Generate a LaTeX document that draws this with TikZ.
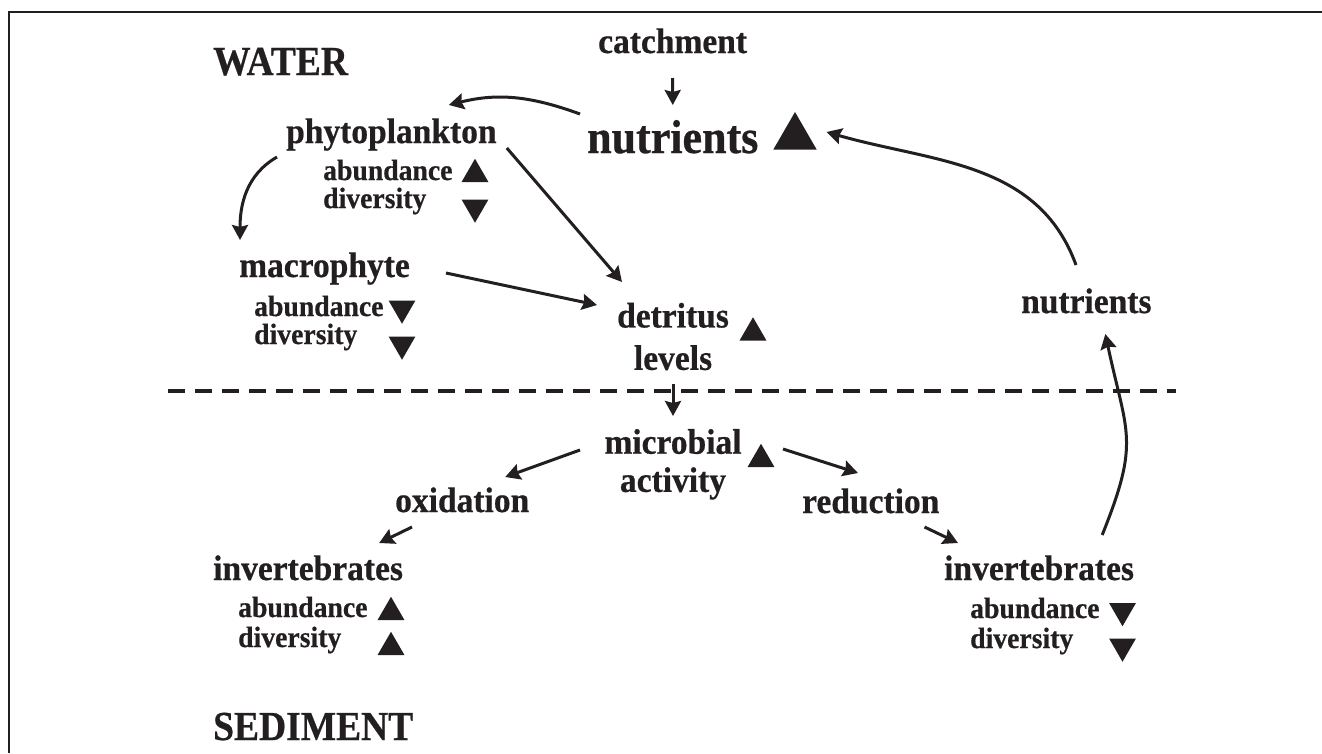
\documentclass[tikz,border=0pt]{standalone}
\usepackage{fontspec}
\setmainfont{Liberation Serif}[BoldFeatures={FakeBold=0.6}]
\usetikzlibrary{arrows.meta,shapes.geometric}
\definecolor{ink}{HTML}{231F20}
\begin{document}
\begin{tikzpicture}[
  x=1pt, y=1pt, color=ink,
  headtxt/.style={font=\fontsize{37.5}{45}\selectfont\bfseries, inner sep=0pt, anchor=base west, yscale=1.1},
  lbl/.style={font=\fontsize{33.5}{40}\selectfont\bfseries, inner sep=0pt, anchor=base west, yscale=1.06},
  bigtxt/.style={font=\fontsize{44}{52}\selectfont\bfseries, inner sep=0pt, anchor=base west, yscale=1.08},
  subtxt/.style={font=\fontsize{27.7}{33}\selectfont\bfseries, inner sep=0pt, anchor=base west, yscale=1.06},
  twoline/.style={font=\fontsize{33.5}{#1}\selectfont\bfseries, inner sep=0pt, align=center, yscale=1.06},
  tri/.style={regular polygon, regular polygon sides=3, fill=ink, inner sep=0pt, minimum size=31pt},
  trup/.style={tri},
  trdown/.style={tri, shape border rotate=180},
  arr/.style={line width=3pt, -{Stealth[length=15pt, width=16pt, inset=2pt]}}
]
\useasboundingbox (0,0) rectangle (1322,-753);
\draw[line width=1.7pt] (9,-753) -- (9,-12) -- (1322,-12);
\node[headtxt] (water) at (213,-75) {WATER};
\node[headtxt] (sediment) at (213,-740) {SEDIMENT};
\node[lbl] (catch) at (598,-53) {catchment};
\node[bigtxt] (nutr) at (587,-153) {nutrients};
\node[trup, minimum size=50pt] (nutrup) at (795,-137) {};
\node[lbl] (phyto) at (286,-143) {phytoplankton};
\node[subtxt] (phab) at (323,-180) {abundance};
\node[subtxt] (phdi) at (323,-208) {diversity};
\node[trup] (phabup) at (475,-174.25) {};
\node[trdown] (phdidown) at (475,-207.25) {};
\node[lbl] (macro) at (239,-277) {macrophyte};
\node[subtxt] (maab) at (254,-316) {abundance};
\node[subtxt] (madi) at (254,-344) {diversity};
\node[trdown] (maabdown) at (402,-308.25) {};
\node[trdown] (madidown) at (402,-344.25) {};
\node[twoline=40] (detr) at (673,-336.5) {detritus\\levels};
\node[trup] (detrup) at (753,-332.75) {};
\node[lbl] (nutr2) at (1021,-313) {nutrients};
\node[twoline=36] (micro) at (673,-464.3) {microbial\\activity};
\node[trup] (microup) at (761,-459.25) {};
\node[lbl] (oxid) at (395,-512) {oxidation};
\node[lbl] (reduc) at (802,-513) {reduction};
\node[lbl] (invl) at (213,-580) {invertebrates};
\node[subtxt] (ilab) at (238,-617) {abundance};
\node[subtxt] (ildi) at (238,-647) {diversity};
\node[trup] (ilabup) at (391,-612.25) {};
\node[trup] (ildiup) at (391,-647.25) {};
\node[lbl] (invr) at (944,-580) {invertebrates};
\node[subtxt] (irab) at (970,-618) {abundance};
\node[subtxt] (irdi) at (970,-648) {diversity};
\node[trdown] (irabdown) at (1122.5,-610.75) {};
\node[trdown] (irdidown) at (1122.5,-646.25) {};
\draw[line width=3.5pt, dash pattern=on 17pt off 10pt] (168,-391) -- (1176,-391);
\draw[arr] ([shift={(0,-25)}]catch.base) -- ([shift={(0,48)}]nutr.base);
\draw[arr] ([shift={(-7,39)}]nutr.base west) to[out=160, in=14] ([shift={(-48,38)}]phyto.base east);
\draw[arr] ([shift={(-9,-14)}]phyto.base west) to[out=210, in=90] ([shift={(1,37)}]macro.base west);
\draw[arr] ([shift={(10,-5)}]phyto.base east) -- ([shift={(-51,54.5)}]detr.center);
\draw[arr] ([shift={(36,4)}]macro.base east) -- ([shift={(-76,31.5)}]detr.center);
\draw[arr] ([shift={(0,-47.5)}]detr.center) -- ([shift={(0,48.3)}]micro.center);
\draw[arr] ([shift={(-93,14.3)}]micro.center) -- ([shift={(43,35)}]oxid.base);
\draw[arr] ([shift={(17,-15)}]oxid.base west) -- ([shift={(-24,37)}]invl.base east);
\draw[arr] ([shift={(110,15.3)}]micro.center) -- ([shift={(56,40)}]reduc.base west);
\draw[arr] ([shift={(-15,-14)}]reduc.base east) -- ([shift={(14,37)}]invr.base west);
\draw[arr] ([shift={(-32,45)}]invr.base east) to[out=68, in=-78, looseness=1.3] ([shift={(19,-21)}]nutr2.base);
\draw[arr] ([shift={(55,48)}]nutr2.base west) to[out=110, in=-16] ([shift={(68,21)}]nutr.base east);
\end{tikzpicture}
\end{document}
